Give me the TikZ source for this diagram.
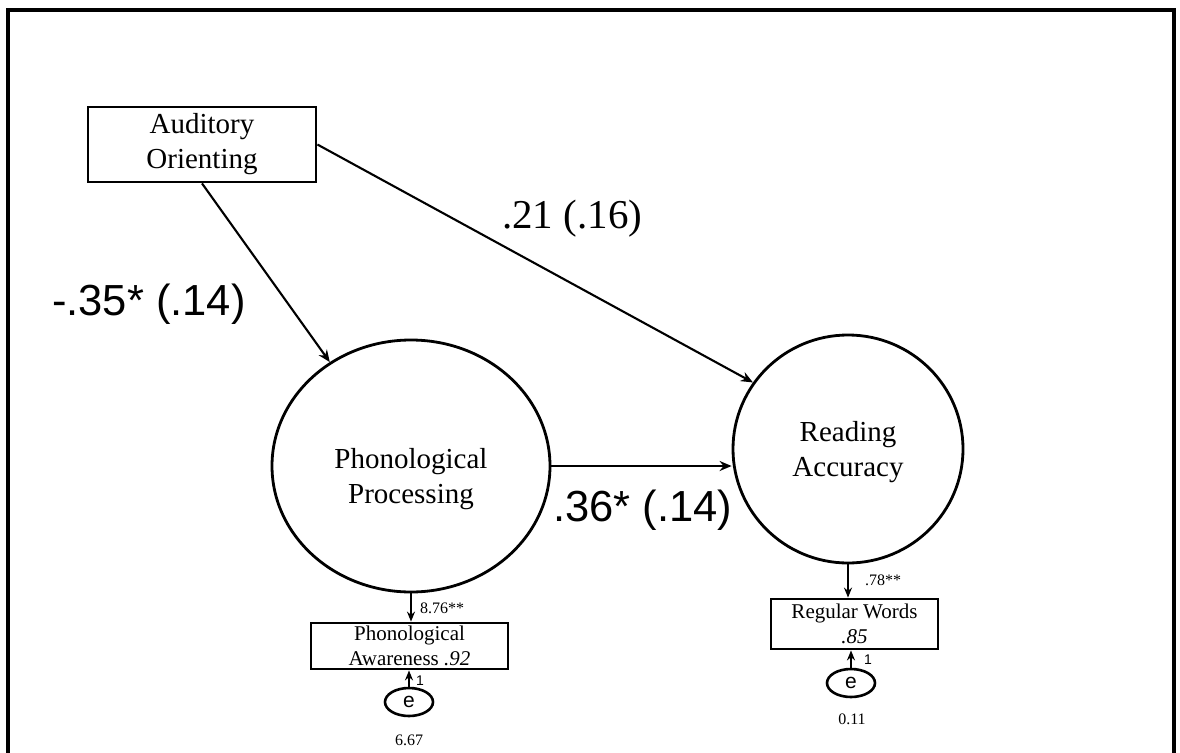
\documentclass[tikz,border=0pt]{standalone}
\usepackage{fontspec}
\setmainfont{Liberation Serif}
\newfontfamily\arialfont{Liberation Sans}
\usetikzlibrary{shapes.geometric,arrows.meta}

\tikzset{
  obsbox/.style={draw, line width=2.8pt, inner sep=0pt, align=center},
  latent/.style={draw, ellipse, line width=2.8pt, inner sep=0pt},
  errnode/.style={draw, ellipse, line width=2.6pt, inner sep=0pt,
                  minimum width=48pt, minimum height=28pt,
                  font=\arialfont\fontsize{21}{24}\selectfont},
  path/.style={line width=2.1pt, -{Stealth[length=12pt,width=10pt]}},
  smallpath/.style={line width=2.1pt, -{Stealth[length=10pt,width=8pt]}},
  bigtxt/.style={font=\fontsize{29}{35}\selectfont, align=center, inner sep=0pt},
  midtxt/.style={font=\fontsize{21}{25}\selectfont, align=center, inner sep=0pt},
  smalltxt/.style={font=\fontsize{16}{19}\selectfont, inner sep=0pt},
  coefsans/.style={font=\arialfont\fontsize{43.5}{50}\selectfont, inner sep=0pt},
  coefserif/.style={font=\fontsize{41}{48}\selectfont, inner sep=0pt},
}

\begin{document}
\begin{tikzpicture}[x=1pt, y=-1pt]
  \useasboundingbox (0,0) rectangle (1180,752);
  \fill[white] (0,0) rectangle (1180,752);

  % slide frame (open at the bottom edge)
  \begin{scope}
    \clip (0,0) rectangle (1180,752);
    \draw[line width=3.5pt] (8,10) rectangle (1174,800);
  \end{scope}

  % observed predictor
  \node[obsbox, bigtxt, minimum width=228pt, minimum height=75pt] (ao) at (202,144.5)
    {Auditory\\Orienting};

  % latent variables
  \node[latent, minimum width=278pt, minimum height=252pt] (pp) at (411,466) {};
  \node[bigtxt] (pptxt) at (411,479) {Phonological\\Processing};

  \node[latent, minimum width=230pt, minimum height=228pt] (ra) at (848,449) {};
  \node[bigtxt] (ratxt) at (848,452) {Reading\\Accuracy};

  % indicators
  \node[obsbox, midtxt, minimum width=197pt, minimum height=46pt] (pa) at (409.5,646)
    {Phonological\\Awareness \textit{.92}};
  \node[obsbox, midtxt, minimum width=167pt, minimum height=50pt] (rw) at (854.5,624)
    {Regular Words\\\textit{.85}};

  % error terms
  \node[errnode] (e1) at (409,702) {e};
  \node[errnode] (e2) at (851,683) {e};

  % structural paths
  \draw[path] (ao.south) -- (pp.128);
  \draw[path] (ao.east) -- (ra.145);
  \draw[path] (pp.east) -- (ra.west |- pp.east);

  % measurement paths
  \draw[smallpath] (pp.south) -- (pa.north -| pp.south);
  \draw[smallpath] (ra.south) -- (rw.north -| ra.south);
  \draw[smallpath] (e1.north) -- (pa.south -| e1.north);
  \draw[smallpath] (e2.north) -- (rw.south -| e2.north);

  % coefficients
  \node[coefsans, anchor=base west] (c1) at (52,315) {-.35* (.14)};
  \node[coefserif, anchor=base west] (c2) at (502,228) {.21 (.16)};
  \node[coefsans, anchor=base west] (c3) at (553,521) {.36* (.14)};

  \node[smalltxt, anchor=base west] (l1) at (420,613) {8.76**};
  \node[smalltxt, anchor=base west] (l2) at (865,585) {.78**};
  \node[font=\arialfont\fontsize{14}{16}\selectfont, inner sep=0pt, anchor=base west] (o1) at (416,685) {1};
  \node[font=\arialfont\fontsize{14}{16}\selectfont, inner sep=0pt, anchor=base west] (o2) at (864,664) {1};

  \node[smalltxt, anchor=base] (v1) at (409,745) {6.67};
  \node[smalltxt, anchor=base] (v2) at (852,724) {0.11};
\end{tikzpicture}
\end{document}
